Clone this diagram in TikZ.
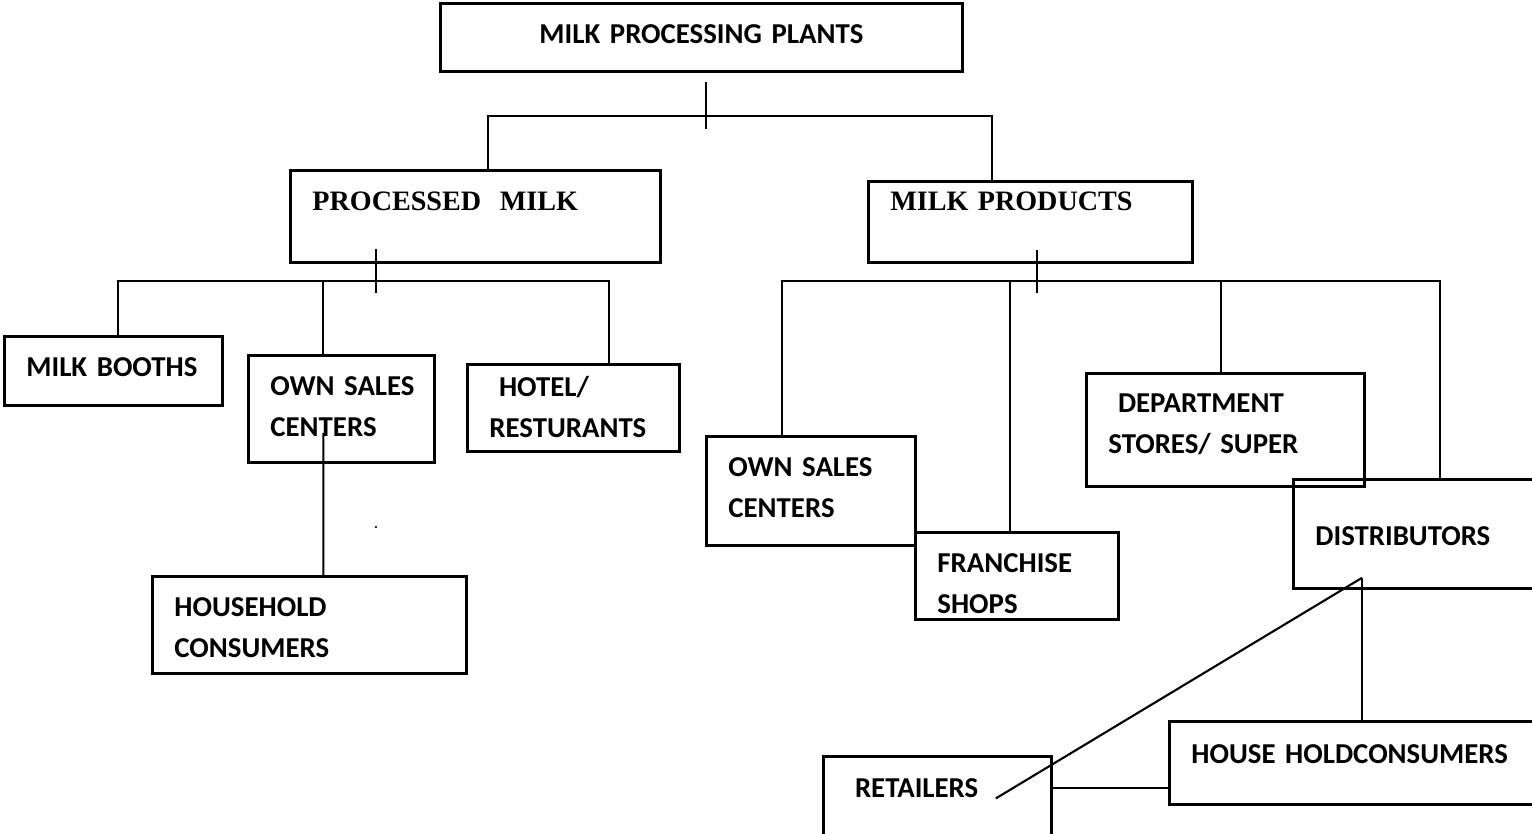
\documentclass[tikz,border=0pt]{standalone}
\usepackage{fontspec}
\setmainfont{Carlito}
\newfontfamily\headserif{Liberation Serif}
\tikzset{
    box/.style={rectangle, draw, line width=0.8pt, anchor=north west, inner xsep=0.22cm, inner ysep=0pt, text height=0.40cm, align=left, font=\bfseries\fontsize{8.2}{11.6}\selectfont},
    serifbox/.style={box, font=\headserif\bfseries\fontsize{8}{11.6}\selectfont},
    link/.style={line width=0.6pt},
}
\begin{document}
\begin{tikzpicture}
    \useasboundingbox (0,0) rectangle (15.32,-8.33);
    \clip (0,0) rectangle (15.32,-8.33);
    % Level 0: plants
    \node [box, align=center, text width=4.78cm, text depth=0.28cm] (plants) at (4.39,-0.02) {MILK PROCESSING PLANTS};
    % Level 1: two lines of output
    \node [serifbox, text width=3.26cm, text depth=0.52cm] (proc) at (2.89,-1.69) {PROCESSED~~MILK};
    \node [serifbox, text width=2.80cm, text height=0.29cm, text depth=0.52cm] (prod) at (8.67,-1.80) {MILK~PRODUCTS};
    % Level 2: processed milk outlets
    \node [box, text width=1.74cm, text depth=0.29cm] (booth) at (0.03,-3.35) {MILK~BOOTHS};
    \node [box, text width=1.42cm, text depth=0.67cm] (ownL) at (2.47,-3.54) {OWN~SALES\\CENTERS};
    \node [box, text width=1.68cm, text height=0.32cm, text depth=0.55cm] (hotel) at (4.66,-3.63) {~HOTEL/\\RESTURANTS};
    \node [box, text width=2.70cm, text depth=0.57cm] (house) at (1.51,-5.75) {HOUSEHOLD\\CONSUMERS};
    \node [font=\tiny] (stray) at (3.76,-5.28) {.};
    % Level 2: milk products outlets
    \node [box, text width=1.65cm, text depth=0.69cm] (ownR) at (7.05,-4.35) {OWN~SALES\\CENTERS};
    \node [box, text width=1.59cm, text depth=0.47cm] (fran) at (9.14,-5.31) {FRANCHISE\\SHOPS};
    \node [box, text width=2.34cm, text height=0.39cm, text depth=0.74cm] (dept) at (10.85,-3.72) {~DEPARTMENT\\STORES/~SUPER};
    \node [box, text width=2.09cm, text height=0.66cm, text depth=0.43cm] (dist) at (12.92,-4.78) {DISTRIBUTORS};
    % Level 3: below distributors
    \node [box, text width=3.33cm, text height=0.42cm, text depth=0.41cm] (hh) at (11.68,-7.20) {HOUSE~HOLDCONSUMERS};
    \node [box, text width=1.84cm, text height=0.41cm, text depth=0.49cm] (ret) at (8.22,-7.55) {~RETAILERS};
    % Bus junctions
    \coordinate (bus1) at (7.06,-1.16);
    \coordinate (bus2) at (3.76,-2.81);
    \coordinate (bus3) at (10.37,-2.81);
    % Plants to the two groups
    \draw [link] ([xshift=0.13cm]proc.north) |- (bus1) -| ([xshift=-0.38cm]prod.north);
    \draw [link] (bus1) ++(0,0.34) -- ++(0,-0.47);
    % Processed milk branch
    \draw [link] ([xshift=0.05cm]booth.north) |- (bus2) -| ([xshift=0.36cm]hotel.north);
    \draw [link] ([xshift=-0.18cm]ownL.north) |- (bus2);
    \draw [link] (bus2) ++(0,0.32) -- ++(0,-0.44);
    \draw [link] ([xshift=-0.18cm,yshift=0.31cm]ownL.south) -- ([xshift=0.14cm]house.north);
    % Milk products branch
    \draw [link] ([xshift=-0.29cm]ownR.north) |- (bus3) -| ([xshift=0.2cm]dist.north);
    \draw [link] ([xshift=-0.07cm]fran.north) |- (bus3);
    \draw [link] ([xshift=-0.04cm]dept.north) |- (bus3);
    \draw [link] (bus3) ++(0,0.31) -- ++(0,-0.43);
    % Distributors down to retailers and households
    \draw [link] ([xshift=0.7cm,yshift=0.12cm]dist.south west) coordinate (dfoot) -- (dfoot |- hh.north);
    \draw [link] (dfoot) -- ([xshift=-0.57cm,yshift=0.03cm]ret.east);
    \draw [link] ([yshift=0.13cm]ret.east) coordinate (rr) -- (rr -| hh.west);
\end{tikzpicture}
\end{document}
